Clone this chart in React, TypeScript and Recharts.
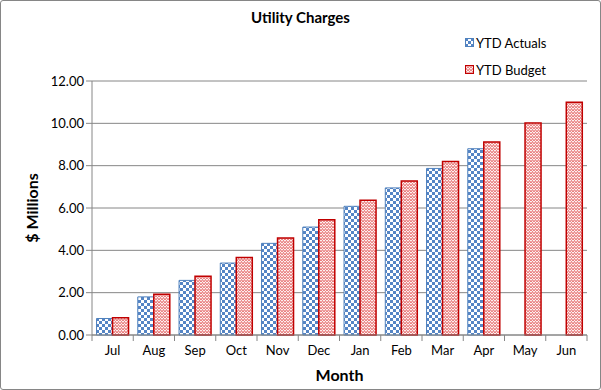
import { BarChart, Bar, XAxis, YAxis, CartesianGrid } from 'recharts';

const months = ['Jul', 'Aug', 'Sep', 'Oct', 'Nov', 'Dec', 'Jan', 'Feb', 'Mar', 'Apr', 'May', 'Jun'];
const ytdActuals = [0.78, 1.8, 2.58, 3.4, 4.33, 5.1, 6.08, 6.95, 7.87, 8.8, null, null];
const ytdBudget = [0.82, 1.92, 2.78, 3.66, 4.58, 5.45, 6.37, 7.27, 8.2, 9.12, 10.02, 11.0];
const yTicks = [0, 2, 4, 6, 8, 10, 12];

const data = months.map((m, i) => ({ month: m, actual: ytdActuals[i], budget: ytdBudget[i] }));

const W = 601;
const H = 390;
const Y_W = 60;
const X_H = 30;
const M = { top: 81, right: 14, bottom: 55 - X_H, left: 92 - Y_W };
const band = (W - 92 - M.right) / months.length;
const font = 'Lato, "Open Sans", sans-serif';

function MonthTick(props: any) {
  const { x, y, payload, index } = props;
  const left = x - band / 2;
  return (
    <g>
      <line x1={left} x2={left} y1={y - 8} y2={y - 2} stroke="#868686" />
      {index === months.length - 1 && (
        <line x1={left + band} x2={left + band} y1={y - 8} y2={y - 2} stroke="#868686" />
      )}
      <text x={x} y={y + 12} textAnchor="middle" fontSize={13} fill="#000" fontFamily={font}>
        {payload.value}
      </text>
    </g>
  );
}

function YLabel(props: any) {
  const { viewBox } = props;
  const cx = 31;
  const cy = viewBox.y + viewBox.height / 2;
  return (
    <text x={cx} y={cy} transform={`rotate(-90, ${cx}, ${cy})`} textAnchor="middle" dominantBaseline="central"
      fontFamily={font} fontWeight={700} fontSize={16} fill="#000">
      $ Millions
    </text>
  );
}

function LegendBox() {
  const items = [
    { label: 'YTD Actuals', fill: 'url(#checks)', stroke: '#4f81bd' },
    { label: 'YTD Budget', fill: 'url(#zigzag)', stroke: '#c00000' },
  ];
  return (
    <div style={{ position: 'absolute', left: 465, top: 29, fontFamily: font, fontSize: 13 }}>
      {items.map((it) => (
        <div key={it.label} style={{ display: 'flex', alignItems: 'center', height: 27 }}>
          <svg width={9} height={9} style={{ marginRight: 2 }}>
            <rect x={0.5} y={0.5} width={8} height={8} fill={it.fill} stroke={it.stroke} />
          </svg>
          <span>{it.label}</span>
        </div>
      ))}
    </div>
  );
}

export default function App() {
  return (
    <div style={{ position: 'absolute', left: 0, top: 0, width: W, height: H, background: '#fff' }}>
      <div
        style={{
          position: 'absolute', left: 0, top: 0, width: W - 2, height: H - 2,
          border: '1px solid #868686', borderRadius: 3,
        }}
      />
      <div style={{ position: 'absolute', top: 8, width: W, textAlign: 'center', fontFamily: font, fontWeight: 700, fontSize: 15 }}>
        Utility Charges
      </div>
      <div style={{ position: 'absolute', left: 0, top: 0 }}>
        <BarChart width={W} height={H} data={data} margin={M} barCategoryGap="11%" barGap={0}>
          <defs>
            <pattern id="checks" width={6} height={6} patternUnits="userSpaceOnUse">
              <rect width={6} height={6} fill="#ffffff" />
              <rect width={3} height={3} fill="#5585c5" />
              <rect x={3} y={3} width={3} height={3} fill="#5585c5" />
            </pattern>
            <pattern id="zigzag" width={6} height={6} patternUnits="userSpaceOnUse">
              <rect width={6} height={6} fill="#fdeeee" />
              <path d="M0 3 L1.5 0.5 L3 3 L4.5 0.5 L6 3 M0 6 L1.5 3.5 L3 6 L4.5 3.5 L6 6" stroke="#e05050" strokeWidth={0.8} fill="none" />
            </pattern>
          </defs>
          <CartesianGrid vertical={false} stroke="#868686" />
          <XAxis
            dataKey="month"
            height={X_H}
            stroke="#868686"
            tickLine={false}
            tick={<MonthTick />}
            interval={0}
            label={{ value: 'Month', position: 'insideBottom', offset: -16, fontFamily: font, fontWeight: 700, fontSize: 16, fill: '#000' }}
          />
          <YAxis
            width={Y_W}
            domain={[0, 12]}
            ticks={yTicks}
            stroke="#868686"
            tickSize={6}
            tickFormatter={(v: number) => v.toFixed(2)}
            tick={{ fontSize: 13, fill: '#000', fontFamily: font }}
            label={<YLabel />}
          />
          <Bar dataKey="actual" name="YTD Actuals" fill="url(#checks)" stroke="#4f81bd" strokeWidth={1} isAnimationActive={false} />
          <Bar dataKey="budget" name="YTD Budget" fill="url(#zigzag)" stroke="#c00000" strokeWidth={1.5} isAnimationActive={false} />
        </BarChart>
      </div>
      <LegendBox />
    </div>
  );
}
